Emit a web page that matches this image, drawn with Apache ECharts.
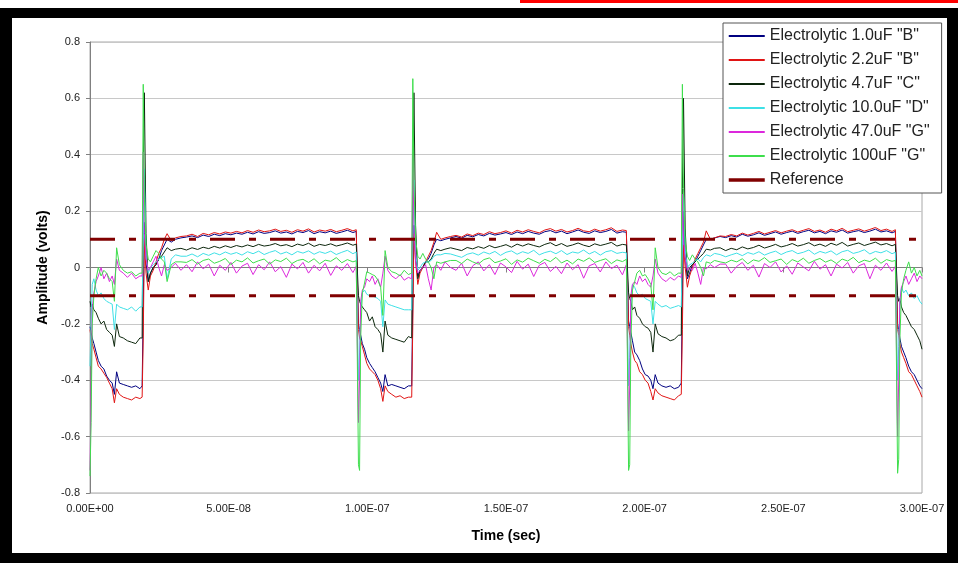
<!DOCTYPE html>
<html>
<head>
<meta charset="utf-8">
<script src="https://cdn.jsdelivr.net/npm/echarts@6/dist/echarts.min.js"></script>
<style>
  html, body { margin: 0; padding: 0; background: #ffffff; }
  #redbar { position: absolute; left: 520px; top: 0; width: 438px; height: 3px; background: #ff0000; }
  #frame { position: absolute; left: 0; top: 8px; width: 958px; height: 555px; box-sizing: border-box;
           border-style: solid; border-color: #000; border-width: 10px 11px 10px 12px; background: #fff; }
  #chart { position: absolute; left: 0; top: 0; width: 958px; height: 563px; }
</style>
</head>
<body>
<div id="redbar"></div>
<div id="frame"></div>
<div id="chart"></div>
<script>
// ---- Data (time in ns; amplitude in volts) ----
const timeNs = [
  0, 0.4, 0.8, 1.4, 2.2, 3, 4, 5, 6, 7, 8, 8.8, 9.6, 10.6, 12, 13.5, 15, 16.5, 18,
  18.8, 19.2, 19.6, 20.2, 21, 21.8, 22.8, 23.8, 24.8, 25.8, 26.8, 27.8, 29.3, 30.8, 32.8,
  34.8, 36.8, 38.8, 40.8, 42.8, 44.8, 46.8, 48.8, 50.8, 52.8, 54.8, 56.8, 58.8, 60.8, 62.8, 64.8,
  66.8, 68.8, 70.8, 72.8, 74.8, 76.8, 78.8, 80.8, 82.8, 84.8, 86.8, 88.8, 90.8, 92.8, 94.8, 96.0,
  96.8, 97.2, 97.6, 98.2, 99, 99.8, 100.8, 101.8, 102.8, 103.8, 104.8, 105.6, 106.4, 107.4, 108.8, 110.3, 111.8, 113.3, 114.8,
  116, 116.4, 116.8, 117.4, 118.2, 119, 120, 121, 122, 123, 124, 125, 126.5, 128, 130,
  132, 134, 136, 138, 140, 142, 144, 146, 148, 150, 152, 154, 156, 158, 160, 162,
  164, 166, 168, 170, 172, 174, 176, 178, 180, 182, 184, 186, 188, 190, 192, 193.4,
  194.2, 194.6, 195, 195.6, 196.4, 197.2, 198.2, 199.2, 200.2, 201.2, 202.2, 203, 203.8, 204.8, 206.2, 207.7, 209.2, 210.7, 212.2,
  213.2, 213.6, 214, 214.6, 215.4, 216.2, 217.2, 218.2, 219.2, 220.2, 221.2, 222.2, 223.7, 225.2, 227.2,
  229.2, 231.2, 233.2, 235.2, 237.2, 239.2, 241.2, 243.2, 245.2, 247.2, 249.2, 251.2, 253.2, 255.2, 257.2, 259.2,
  261.2, 263.2, 265.2, 267.2, 269.2, 271.2, 273.2, 275.2, 277.2, 279.2, 281.2, 283.2, 285.2, 287.2, 289.2, 290.4,
  291.2, 291.6, 292, 292.6, 293.4, 294.2, 295.2, 296.2, 297.2, 298.2, 299.2, 300
];

const cap1_0uF = [
  -0.21, -0.23, -0.25, -0.27, -0.30, -0.33, -0.35, -0.36, -0.385, -0.40, -0.41, -0.45, -0.37, -0.41, -0.415, -0.42, -0.425, -0.42, -0.43,
  -0.42, -0.15, 0.16, 0.02, -0.05, -0.02, 0.0, 0.01, 0.03, 0.06, 0.08, 0.10, 0.09, 0.10, 0.105,
  0.108, 0.112, 0.106, 0.115, 0.110, 0.118, 0.113, 0.120, 0.116, 0.122, 0.118, 0.125, 0.119, 0.127, 0.121, 0.124,
  0.130, 0.122, 0.126, 0.119, 0.128, 0.124, 0.131, 0.120, 0.127, 0.123, 0.129, 0.121, 0.126, 0.132, 0.124, 0.128,
  -0.20, -0.22, -0.24, -0.27, -0.29, -0.32, -0.34, -0.355, -0.37, -0.39, -0.41, -0.44, -0.38, -0.42, -0.415, -0.42, -0.425, -0.43, -0.42,
  -0.42, -0.10, 0.15, 0.05, -0.03, -0.01, 0.0, 0.02, 0.03, 0.05, 0.08, 0.10, 0.095, 0.10, 0.105,
  0.110, 0.104, 0.114, 0.109, 0.117, 0.112, 0.121, 0.115, 0.119, 0.124, 0.117, 0.126, 0.120, 0.128, 0.122, 0.118,
  0.127, 0.131, 0.123, 0.129, 0.120, 0.126, 0.133, 0.125, 0.121, 0.130, 0.124, 0.128, 0.135, 0.122, 0.127, 0.125,
  -0.19, -0.21, -0.23, -0.26, -0.30, -0.31, -0.33, -0.36, -0.38, -0.385, -0.40, -0.43, -0.38, -0.41, -0.42, -0.425, -0.42, -0.43, -0.425,
  -0.41, -0.08, 0.20, 0.04, -0.04, -0.02, 0.01, 0.02, 0.04, 0.06, 0.08, 0.10, 0.10, 0.105, 0.11,
  0.106, 0.113, 0.108, 0.118, 0.111, 0.116, 0.123, 0.114, 0.120, 0.126, 0.118, 0.124, 0.129, 0.121, 0.127, 0.132,
  0.123, 0.128, 0.120, 0.130, 0.125, 0.133, 0.122, 0.127, 0.131, 0.124, 0.129, 0.136, 0.126, 0.130, 0.123, 0.128,
  -0.20, -0.22, -0.25, -0.28, -0.30, -0.32, -0.35, -0.37, -0.38, -0.40, -0.42, -0.43
];

const cap2_2uF = [
  -0.22, -0.25, -0.27, -0.29, -0.32, -0.35, -0.36, -0.375, -0.39, -0.41, -0.43, -0.48, -0.43, -0.45, -0.46, -0.465, -0.47, -0.46, -0.465,
  -0.46, -0.25, 0.10, -0.02, -0.08, -0.03, -0.01, 0.02, 0.05, 0.07, 0.10, 0.12, 0.095, 0.105, 0.11,
  0.112, 0.118, 0.110, 0.121, 0.116, 0.124, 0.119, 0.126, 0.122, 0.128, 0.123, 0.131, 0.125, 0.133, 0.127, 0.130,
  0.136, 0.128, 0.132, 0.125, 0.134, 0.129, 0.137, 0.126, 0.133, 0.129, 0.135, 0.127, 0.132, 0.138, 0.130, 0.134,
  -0.22, -0.25, -0.26, -0.28, -0.31, -0.34, -0.36, -0.37, -0.38, -0.40, -0.43, -0.475, -0.42, -0.44, -0.45, -0.46, -0.455, -0.465, -0.46,
  -0.46, -0.20, 0.12, 0.02, -0.06, -0.02, 0.0, 0.02, 0.04, 0.06, 0.09, 0.125, 0.10, 0.105, 0.11,
  0.114, 0.108, 0.119, 0.113, 0.122, 0.117, 0.127, 0.120, 0.124, 0.130, 0.122, 0.132, 0.126, 0.134, 0.128, 0.123,
  0.133, 0.138, 0.129, 0.135, 0.126, 0.131, 0.139, 0.130, 0.127, 0.136, 0.129, 0.134, 0.141, 0.128, 0.133, 0.131,
  -0.21, -0.24, -0.27, -0.30, -0.33, -0.34, -0.37, -0.38, -0.40, -0.41, -0.44, -0.47, -0.43, -0.445, -0.455, -0.46, -0.465, -0.47, -0.455,
  -0.45, -0.22, 0.08, 0.0, -0.07, -0.03, 0.0, 0.03, 0.05, 0.07, 0.09, 0.13, 0.10, 0.105, 0.112,
  0.110, 0.117, 0.112, 0.122, 0.115, 0.121, 0.128, 0.119, 0.125, 0.131, 0.123, 0.129, 0.134, 0.126, 0.132, 0.138,
  0.128, 0.133, 0.125, 0.136, 0.130, 0.139, 0.127, 0.132, 0.137, 0.129, 0.135, 0.142, 0.131, 0.136, 0.128, 0.134,
  -0.22, -0.24, -0.27, -0.30, -0.32, -0.34, -0.37, -0.38, -0.40, -0.42, -0.44, -0.46
];

const cap4_7uF = [
  -0.12, -0.14, -0.13, -0.15, -0.16, -0.18, -0.20, -0.19, -0.22, -0.23, -0.24, -0.28, -0.20, -0.245, -0.25, -0.26, -0.265, -0.27, -0.25,
  -0.25, 0.35, 0.62, 0.12, -0.05, -0.02, 0.0, 0.01, 0.03, 0.04, 0.055, 0.07, 0.06, 0.065, 0.068,
  0.062, 0.070, 0.064, 0.072, 0.067, 0.075, 0.069, 0.077, 0.071, 0.078, 0.073, 0.080, 0.074, 0.082, 0.076, 0.079,
  0.085, 0.077, 0.081, 0.074, 0.083, 0.078, 0.086, 0.075, 0.082, 0.078, 0.084, 0.076, 0.081, 0.087, 0.079, 0.083,
  -0.10, -0.12, -0.13, -0.14, -0.15, -0.16, -0.19, -0.175, -0.21, -0.22, -0.235, -0.30, -0.19, -0.24, -0.25, -0.255, -0.26, -0.265, -0.245,
  -0.25, 0.30, 0.62, 0.15, -0.04, -0.01, 0.0, 0.02, 0.02, 0.03, 0.05, 0.065, 0.06, 0.065, 0.07,
  0.065, 0.060, 0.071, 0.066, 0.074, 0.068, 0.078, 0.070, 0.075, 0.081, 0.072, 0.083, 0.076, 0.084, 0.078, 0.073,
  0.082, 0.088, 0.077, 0.085, 0.075, 0.080, 0.087, 0.079, 0.074, 0.084, 0.078, 0.083, 0.089, 0.076, 0.082, 0.080,
  -0.09, -0.11, -0.12, -0.15, -0.14, -0.17, -0.18, -0.20, -0.21, -0.215, -0.23, -0.30, -0.20, -0.235, -0.245, -0.25, -0.26, -0.255, -0.24,
  -0.24, 0.28, 0.60, 0.14, -0.03, 0.0, 0.01, 0.02, 0.03, 0.04, 0.05, 0.065, 0.062, 0.068, 0.07,
  0.060, 0.068, 0.063, 0.073, 0.066, 0.071, 0.079, 0.069, 0.075, 0.082, 0.073, 0.078, 0.085, 0.076, 0.081, 0.088,
  0.077, 0.083, 0.075, 0.086, 0.079, 0.089, 0.076, 0.082, 0.087, 0.078, 0.084, 0.090, 0.080, 0.085, 0.077, 0.082,
  -0.10, -0.12, -0.11, -0.14, -0.16, -0.17, -0.19, -0.21, -0.22, -0.24, -0.26, -0.29
];

const cap10_0uF = [
  -0.35, -0.20, -0.06, -0.04, -0.08, -0.10, -0.09, -0.11, -0.12, -0.125, -0.13, -0.22, -0.13, -0.14, -0.145, -0.15, -0.14, -0.155, -0.14,
  -0.14, 0.12, 0.35, 0.04, -0.02, 0.0, 0.01, 0.02, 0.03, 0.035, 0.04, -0.04, 0.03, 0.045, 0.04,
  0.040, 0.048, 0.038, 0.050, 0.043, 0.052, 0.045, 0.055, 0.047, 0.053, 0.044, 0.056, 0.049, 0.058, 0.046, 0.054,
  0.060, 0.048, 0.055, 0.045, 0.057, 0.051, 0.059, 0.047, 0.056, 0.050, 0.058, 0.046, 0.054, 0.061, 0.049, 0.055,
  -0.40, -0.30, -0.15, -0.09, -0.08, -0.095, -0.10, -0.10, -0.105, -0.11, -0.12, -0.21, -0.115, -0.13, -0.135, -0.14, -0.145, -0.15, -0.15,
  -0.15, 0.10, 0.31, 0.05, -0.01, 0.0, 0.015, 0.02, 0.02, 0.025, 0.04, 0.045, 0.045, 0.05, 0.048,
  0.042, 0.036, 0.047, 0.052, 0.044, 0.055, 0.048, 0.057, 0.043, 0.054, 0.059, 0.047, 0.056, 0.050, 0.061, 0.045,
  0.053, 0.058, 0.049, 0.060, 0.046, 0.055, 0.051, 0.062, 0.048, 0.057, 0.044, 0.056, 0.060, 0.050, 0.054, 0.052,
  -0.42, -0.32, -0.14, -0.06, -0.07, -0.09, -0.10, -0.095, -0.11, -0.115, -0.12, -0.20, -0.12, -0.13, -0.14, -0.135, -0.145, -0.14, -0.135,
  -0.14, 0.08, 0.26, 0.06, 0.0, 0.01, 0.015, 0.025, 0.03, 0.02, 0.035, 0.045, 0.04, 0.05, 0.046,
  0.038, 0.045, 0.051, 0.042, 0.053, 0.047, 0.056, 0.044, 0.052, 0.058, 0.046, 0.055, 0.060, 0.049, 0.054, 0.062,
  0.047, 0.057, 0.051, 0.059, 0.045, 0.056, 0.061, 0.050, 0.055, 0.063, 0.048, 0.057, 0.052, 0.060, 0.049, 0.054,
  -0.40, -0.28, -0.12, -0.07, -0.09, -0.08, -0.10, -0.09, -0.11, -0.10, -0.12, -0.13
];

const cap47_0uF = [
  -0.72, -0.45, -0.15, -0.09, -0.05, -0.03, 0.0, -0.04, -0.02, -0.05, -0.03, -0.06, 0.03, -0.01, -0.02, -0.035, -0.02, -0.04, -0.03,
  -0.03, 0.41, 0.12, 0.03, -0.01, 0.0, 0.02, 0.04, 0.0, -0.03, 0.01, -0.01, 0.0, 0.015, -0.01,
  0.010, -0.015, 0.020, -0.005, 0.012, -0.030, 0.008, -0.010, 0.018, -0.020, 0.005, 0.015, -0.025, 0.010, -0.008, 0.020,
  -0.015, 0.003, -0.035, 0.012, -0.005, 0.018, -0.020, 0.008, -0.012, 0.015, -0.028, 0.006, -0.010, 0.014, -0.018, 0.004,
  -0.55, -0.40, -0.12, -0.08, -0.07, -0.04, -0.05, -0.03, -0.06, -0.04, -0.07, -0.02, 0.04, -0.01, -0.03, -0.04, -0.025, -0.045, -0.035,
  -0.04, 0.40, 0.15, 0.02, -0.02, -0.01, 0.0, 0.01, -0.04, -0.08, 0.0, 0.01, -0.01, 0.02, 0.0,
  -0.010, 0.015, -0.030, 0.006, 0.020, -0.012, 0.010, -0.025, 0.016, 0.002, -0.018, 0.022, -0.006, 0.012, -0.032, 0.008,
  0.018, -0.014, 0.004, -0.022, 0.016, -0.008, 0.010, -0.038, 0.006, 0.014, -0.016, 0.020, -0.004, 0.008, -0.026, 0.010,
  -0.58, -0.42, -0.10, -0.06, -0.05, -0.06, -0.03, -0.05, -0.04, -0.06, -0.07, -0.03, 0.03, -0.02, -0.04, -0.05, -0.035, -0.045, -0.03,
  -0.035, 0.26, 0.10, 0.03, -0.01, 0.0, -0.01, 0.015, -0.02, -0.06, 0.0, -0.005, 0.01, 0.0, 0.012,
  0.012, -0.020, 0.004, 0.018, -0.010, 0.008, -0.034, 0.014, 0.000, 0.020, -0.016, 0.006, -0.024, 0.016, 0.002, -0.012,
  0.022, -0.006, 0.010, -0.030, 0.012, -0.002, 0.018, -0.020, 0.006, 0.014, -0.040, 0.008, -0.010, 0.016, -0.014, 0.004,
  -0.60, -0.40, -0.12, -0.07, -0.05, -0.03, -0.06, -0.04, -0.02, -0.05, -0.03, -0.04
];

const cap100uF = [
  -0.74, -0.55, -0.20, -0.10, -0.04, 0.00, -0.03, -0.01, -0.02, -0.04, -0.05, -0.12, 0.07, 0.01, -0.01, -0.02, -0.015, -0.03, -0.02,
  -0.02, 0.65, 0.25, 0.08, 0.03, 0.02, 0.04, 0.06, 0.05, 0.03, 0.02, -0.05, 0.01, 0.02, 0.02,
  0.018, 0.028, 0.012, 0.025, 0.030, 0.015, 0.022, 0.032, 0.010, 0.026, 0.020, 0.034, 0.016, 0.024, 0.030, 0.012,
  0.027, 0.021, 0.033, 0.014, 0.025, 0.029, 0.018, 0.031, 0.013, 0.026, 0.022, 0.035, 0.017, 0.028, 0.020, 0.024,
  -0.70, -0.72, -0.25, -0.09, -0.055, -0.015, -0.02, -0.025, -0.03, -0.045, -0.07, -0.17, 0.06, 0.0, -0.015, -0.02, -0.03, -0.01, -0.025,
  -0.02, 0.67, 0.30, 0.10, 0.04, 0.03, 0.05, 0.03, 0.02, 0.0, -0.04, 0.02, 0.015, 0.02, 0.025,
  0.025, 0.014, 0.030, 0.020, 0.012, 0.028, 0.034, 0.017, 0.023, 0.031, 0.011, 0.027, 0.019, 0.033, 0.024, 0.015,
  0.029, 0.021, 0.036, 0.016, 0.026, 0.013, 0.030, 0.022, 0.034, 0.018, 0.025, 0.031, 0.014, 0.027, 0.021, 0.029,
  -0.72, -0.70, -0.28, -0.08, -0.05, -0.02, -0.01, -0.03, -0.025, -0.04, -0.06, -0.15, 0.07, 0.0, -0.02, -0.025, -0.015, -0.03, -0.02,
  -0.02, 0.65, 0.28, 0.09, 0.04, 0.025, 0.045, 0.03, 0.02, 0.0, -0.03, 0.02, 0.015, 0.025, 0.02,
  0.016, 0.026, 0.020, 0.031, 0.013, 0.027, 0.022, 0.035, 0.018, 0.024, 0.030, 0.011, 0.028, 0.020, 0.033, 0.015,
  0.025, 0.032, 0.019, 0.027, 0.014, 0.030, 0.023, 0.036, 0.017, 0.026, 0.021, 0.033, 0.015, 0.028, 0.022, 0.025,
  -0.73, -0.68, -0.26, -0.09, -0.04, -0.01, 0.02, -0.02, 0.0, -0.03, -0.01, -0.03
];

const referenceLevels = [0.1, -0.1];
const referenceSpan = [0, 300];

const seriesNames = [
  'Electrolytic 1.0uF "B"',
  'Electrolytic 2.2uF "B"',
  'Electrolytic 4.7uF "C"',
  'Electrolytic 10.0uF "D"',
  'Electrolytic 47.0uF "G"',
  'Electrolytic 100uF "G"'
];
const seriesValues = [cap1_0uF, cap2_2uF, cap4_7uF, cap10_0uF, cap47_0uF, cap100uF];
const seriesColors = ['#000080', '#e01414', '#0c260c', '#3ee0e6', '#dc28dc', '#3ede4c'];

const xTickLabels = ['0.00E+00', '5.00E-08', '1.00E-07', '1.50E-07', '2.00E-07', '2.50E-07', '3.00E-07'];
const yTickLabels = ['-0.8', '-0.6', '-0.4', '-0.2', '0', '0.2', '0.4', '0.6', '0.8'];

// ---- sanity check ----
seriesValues.forEach((arr, i) => {
  if (arr.length !== timeNs.length) {
    throw new Error('length mismatch ' + seriesNames[i] + ': ' + arr.length + ' vs ' + timeNs.length);
  }
});

const FONT = '"Liberation Sans", Arial, sans-serif';
const chart = echarts.init(document.getElementById('chart'), null, { renderer: 'canvas' });

const series = seriesNames.map((name, i) => ({
  name: name,
  type: 'line',
  symbol: 'none',
  showSymbol: false,
  animation: false,
  silent: true,
  lineStyle: { color: seriesColors[i], width: 1 },
  itemStyle: { color: seriesColors[i] },
  data: timeNs.map((t, k) => [t, seriesValues[i][k]])
}));

referenceLevels.forEach((lvl) => {
  series.push({
    name: 'Reference',
    type: 'line',
    symbol: 'none',
    showSymbol: false,
    animation: false,
    silent: true,
    lineStyle: { color: '#800000', width: 3, type: [25, 14, 7, 14] },
    itemStyle: { color: '#800000' },
    data: referenceSpan.map((t) => [t, lvl])
  });
});

chart.setOption({
  animation: false,
  backgroundColor: 'transparent',
  textStyle: { fontFamily: FONT },
  grid: {
    left: 90, right: 36, top: 42, bottom: 70,
    show: true, borderColor: '#a8a8a8', borderWidth: 1, backgroundColor: 'transparent'
  },
  legend: {
    orient: 'vertical',
    left: 723, top: 23,
    padding: [5, 12, 5, 4],
    itemWidth: 36, itemHeight: 14, itemGap: 8,
    backgroundColor: '#ffffff',
    borderColor: '#555555', borderWidth: 1, borderRadius: 0,
    itemStyle: { opacity: 0 },
    lineStyle: { opacity: 1 },
    textStyle: { fontFamily: FONT, fontSize: 16, color: '#222', lineHeight: 16 },
    data: seriesNames.map((n) => ({ name: n }))
      .concat([{ name: 'Reference', lineStyle: { type: 'solid', width: 3.5, color: '#800000', opacity: 1 } }])
  },
  xAxis: {
    type: 'value',
    min: 0, max: 300, interval: 50,
    name: 'Time (sec)',
    nameLocation: 'middle',
    nameGap: 36,
    nameTextStyle: { fontFamily: FONT, fontSize: 14, fontWeight: 'bold', color: '#000' },
    axisLine: { show: true, lineStyle: { color: '#808080', width: 1 } },
    axisTick: { show: true, length: 5, lineStyle: { color: '#808080' } },
    splitLine: { show: false },
    axisLabel: {
      fontFamily: FONT, fontSize: 11, color: '#222', margin: 10,
      formatter: (v) => xTickLabels[Math.round(v / 50)]
    }
  },
  yAxis: {
    type: 'value',
    min: -0.8, max: 0.8, interval: 0.2,
    name: 'Amplitude (volts)',
    nameLocation: 'middle',
    nameRotate: 90,
    nameGap: 38,
    nameTextStyle: { fontFamily: FONT, fontSize: 14, fontWeight: 'bold', color: '#000' },
    axisLine: { show: true, lineStyle: { color: '#808080', width: 1 } },
    axisTick: { show: true, length: 4, lineStyle: { color: '#808080' } },
    splitLine: { show: true, lineStyle: { color: '#c8c8c8', width: 1 } },
    axisLabel: {
      fontFamily: FONT, fontSize: 11, color: '#222', margin: 10,
      formatter: (v) => yTickLabels[Math.round((v + 0.8) / 0.2)]
    }
  },
  series: series
});
</script>
</body>
</html>
